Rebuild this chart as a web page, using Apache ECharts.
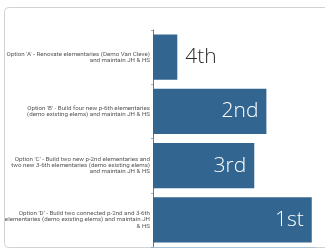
<!DOCTYPE html>
<html>
<head>
    <meta http-equiv="Content-Type" content="text/html; charset=utf-8" />
    <title>Options ranking</title>
    <style>
        html, body { margin: 0; padding: 0; background: #fff; }
        #main { width: 325px; height: 249px; }
    </style>
</head>
<body>
    <div id="main"></div>
    <script src="https://cdn.jsdelivr.net/npm/echarts@6/dist/echarts.min.js"></script>
    <script type="text/javascript">
        var categories = [
            "Option 'A' - Renovate elementaries (Demo Van Cleve)\nand maintain JH & HS",
            "Option 'B' - Build four new p-6th elementaries\n(demo existing elems) and maintain JH & HS",
            "Option 'C' - Build two new p-2nd elementaries and\ntwo new 3-6th elementaries (demo existing elems)\nand maintain JH & HS",
            "Option 'D' - Build two connected p-2nd and 3-6th\nelementaries (demo existing elems) and maintain JH\n& HS"
        ];
        var scores = [15, 70, 62.5, 98];
        var ranks = ['4th', '2nd', '3rd', '1st'];

        var barColor = '#326690';

        var myChart = echarts.init(document.getElementById('main'));
        var option = {
            animation: false,
            graphic: [{
                type: 'rect',
                shape: { x: 4.5, y: 7.5, width: 340, height: 240, r: 4 },
                style: { fill: 'none', stroke: '#cfd3d6', lineWidth: 1 },
                z: -1
            }],
            grid: { left: 153, right: 10, top: 30, bottom: 2 },
            xAxis: {
                type: 'value',
                min: 0,
                max: 100,
                show: true,
                axisLine: { show: true, lineStyle: { color: '#a9c3d8', width: 1 } },
                axisTick: { show: false },
                axisLabel: { show: false },
                splitLine: { show: false }
            },
            yAxis: {
                type: 'category',
                inverse: true,
                data: categories,
                axisLine: { show: true, lineStyle: { color: '#4f7fa6', width: 1 } },
                axisTick: { show: true, length: 2, lineStyle: { color: '#8fb0cc' } },
                axisLabel: {
                    margin: 3,
                    fontFamily: 'Roboto',
                    fontSize: 6.2,
                    lineHeight: 6.3,
                    color: '#555',
                    align: 'right'
                }
            },
            series: [{
                type: 'bar',
                data: scores.map(function (v, i) {
                    var outside = v < 30;
                    return {
                        value: v,
                        label: {
                            position: outside ? 'right' : 'insideRight',
                            color: outside ? '#2b2b2b' : '#ffffff'
                        }
                    };
                }),
                barCategoryGap: '17%',
                itemStyle: { color: barColor },
                label: {
                    show: true,
                    distance: 8,
                    fontFamily: 'Open Sans',
                    fontWeight: 300,
                    fontSize: 21,
                    formatter: function (p) { return ranks[p.dataIndex]; }
                }
            }]
        };
        myChart.setOption(option);
    </script>
</body>
</html>
